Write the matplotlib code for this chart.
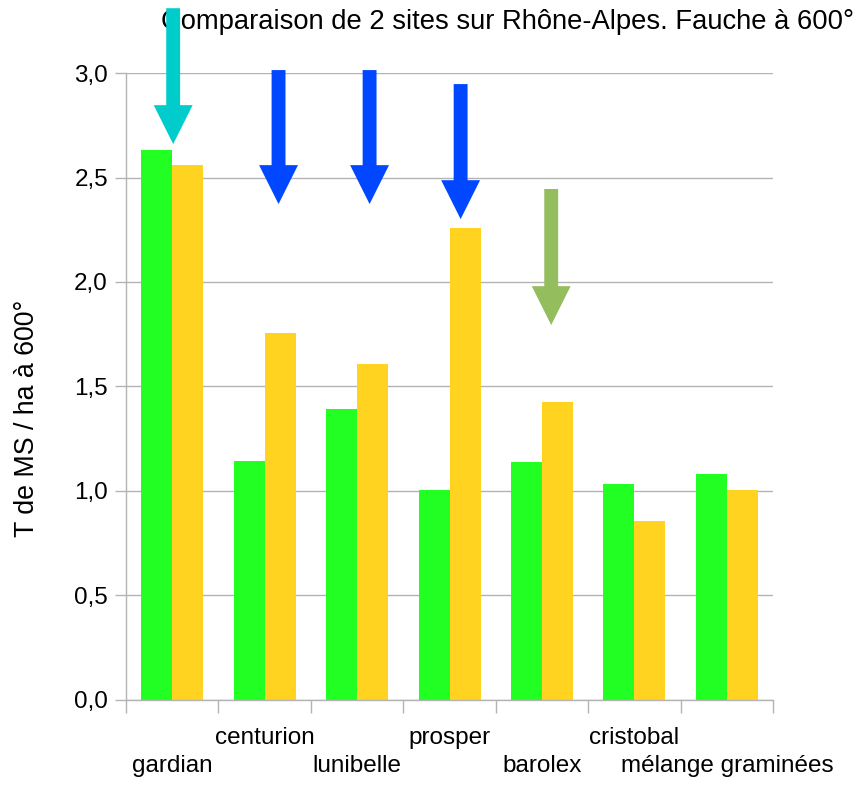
import numpy as np
import matplotlib
matplotlib.use("Agg")
import matplotlib.pyplot as plt

plt.rcParams['font.family'] = ['Liberation Sans', 'DejaVu Sans']

# données
varietes = ['gardian', 'centurion', 'lunibelle', 'prosper', 'barolex',
            'cristobal', 'mélange graminées']
site1 = [2.63, 1.145, 1.39, 1.005, 1.14, 1.035, 1.08]
site2 = [2.56, 1.755, 1.61, 2.26, 1.425, 0.855, 1.005]
yticks = [0.0, 0.5, 1.0, 1.5, 2.0, 2.5, 3.0]
ylabels = ['0,0', '0,5', '1,0', '1,5', '2,0', '2,5', '3,0']

# flèches : (x, haut, pointe, couleur)
fleche_x = [0.01, 1.15, 2.135, 3.12, 4.1]
fleche_haut = [3.31, 3.014, 3.014, 2.947, 2.445]
fleche_pointe = [2.66, 2.373, 2.373, 2.301, 1.794]
fleche_couleur = ['#00cccc', '#0047ff', '#0047ff', '#0047ff', '#94bd5e']

fig = plt.figure(figsize=(8.68, 7.85), dpi=100)
ax = fig.add_axes([0.1452, 0.1083, 0.7454, 0.7987])

x = np.arange(len(varietes))
w = 0.335
ax.bar(x - w / 2, site1, w, color='#22ff22', zorder=2)
ax.bar(x + w / 2, site2, w, color='#ffd320', zorder=2)

for fx, fh, fp, fc in zip(fleche_x, fleche_haut, fleche_pointe, fleche_couleur):
    ax.annotate('', xy=(fx, fp), xytext=(fx, fh),
                arrowprops=dict(arrowstyle='simple,head_length=28,head_width=28,tail_width=10',
                                mutation_scale=1, color=fc, lw=0,
                                shrinkA=0, shrinkB=0), zorder=3)

ax.set_xlim(-0.5, len(varietes) - 0.5)
ax.set_ylim(0, 3.0)
ax.set_yticks(yticks)
ax.set_yticklabels(ylabels, fontsize=17.5)
ax.yaxis.grid(True, color='#b3b3b3', lw=1)
ax.set_axisbelow(True)

# étiquettes en quinconce
ax.set_xticks(np.arange(len(varietes) + 1) - 0.5)
ax.set_xticklabels([])
ax.tick_params(axis='x', length=9, color='#b3b3b3', width=1)
ax.tick_params(axis='y', length=8, color='#b3b3b3', width=1, pad=5)
trans = ax.get_xaxis_transform()
for i, v in enumerate(varietes):
    yy = -0.0702 if i % 2 else -0.1148
    ax.text(i, yy, v, transform=trans, ha='center', va='baseline', fontsize=17.5)

for s in ['top', 'right']:
    ax.spines[s].set_visible(False)
for s in ['left', 'bottom']:
    ax.spines[s].set_color('#b3b3b3')
    ax.spines[s].set_linewidth(1)

# titre sous la flèche cyan
ax.text(0.585, 0.972, 'Comparaison de 2 sites sur Rhône-Alpes. Fauche à 600°',
        transform=fig.transFigure, ha='center', va='center', fontsize=19.7,
        zorder=1, clip_on=False)
fig.text(0.031, 0.467, 'T de MS / ha à 600°', rotation=90,
         ha='center', va='center', fontsize=19.3)

fig.savefig('out.png', dpi=100)
